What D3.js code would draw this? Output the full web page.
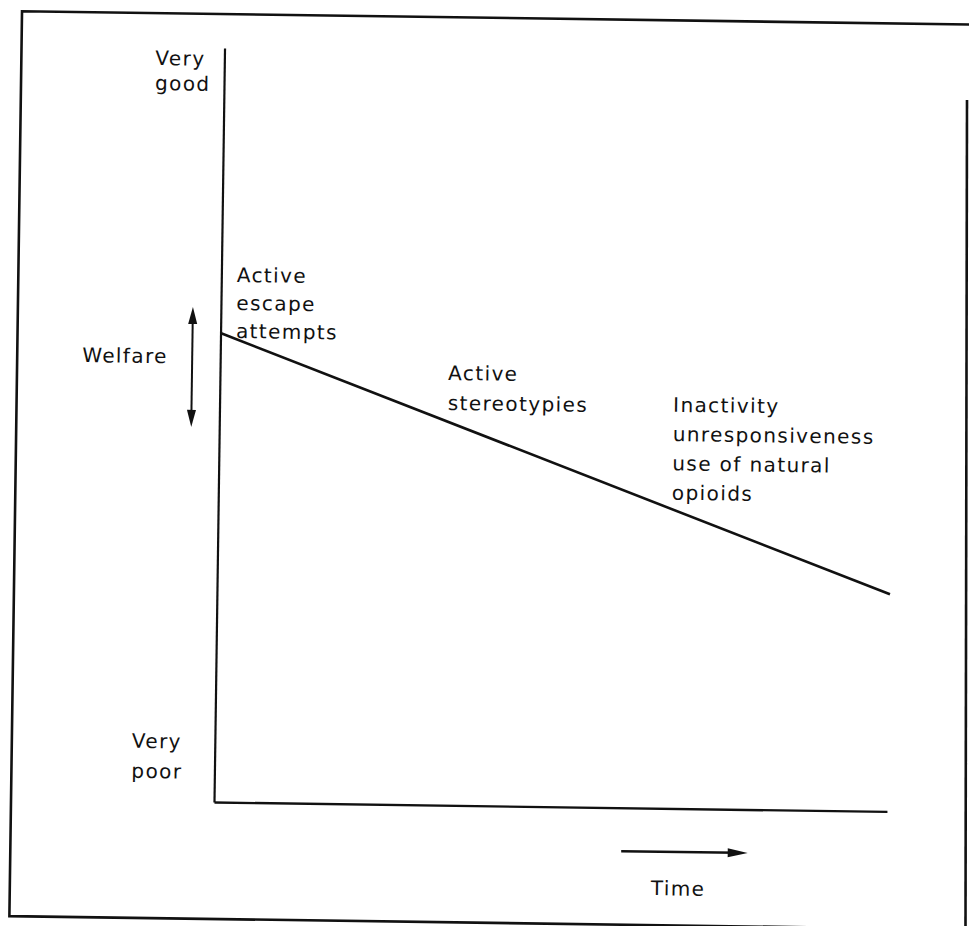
<!DOCTYPE html>
<html>
<head>
<meta charset="utf-8">
<script src="https://cdn.jsdelivr.net/npm/d3@7"></script>
<style>
  html, body { margin: 0; padding: 0; background: #fff; }
  svg { display: block; }
  text { font-family: "DejaVu Sans", sans-serif; font-size: 20px; letter-spacing: 1.4px; fill: #111; }
</style>
</head>
<body>
<script>
// ---- data ----
const time = [0, 100];               // start and end of the period (relative)
const welfare = [62.2, 28.8];        // welfare level (0 = very poor, 100 = very good)
const yTickValues = [0, 100];
const yTickLabels = [["Very", "poor"], ["Very", "good"]];
const stageLabels = [
  ["Active", "escape", "attempts"],
  ["Active", "stereotypies"],
  ["Inactivity", "unresponsiveness", "use of natural", "opioids"]
];
const yAxisTitle = "Welfare";
const xAxisTitle = "Time";

// ---- layout (not data) ----
const W = 969, H = 926;
const origin = [214, 802];
const tilt = 0.8;                    // scan tilt of the original figure
const plotW = 673, plotH = 754;
const stageAnchors = [[2.3, 69.0, 28], [33.9, 56.4, 30], [67.4, 52.6, 29.3]]; // [time, welfare, line step]
const tickLabelPos = [[-83, -53, 30], [-69, 18, 25]]; // [x, dy from tick, line step]

const svg = d3.select("body").append("svg").attr("width", W).attr("height", H);
svg.append("rect").attr("width", W).attr("height", H).attr("fill", "#fff");

const g = svg.append("g").attr("transform", `translate(${origin[0]},${origin[1]}) rotate(${tilt})`);

const x = d3.scaleLinear().domain([0, 100]).range([0, plotW]);
const y = d3.scaleLinear().domain([0, 100]).range([0, -plotH]);

// outer frame (left, top, bottom in tilted frame; right edge straight)
g.append("path")
  .attr("d", "M780,-788 L-203,-788 L-203,117 L780,117")
  .attr("fill", "none").attr("stroke", "#111").attr("stroke-width", 2.6);
svg.append("line").attr("x1", 967).attr("y1", 100).attr("x2", 965.5).attr("y2", 926)
  .attr("stroke", "#111").attr("stroke-width", 2.6);

// axes (domain lines only)
g.append("g").call(d3.axisLeft(y).tickValues([]).tickSizeOuter(0))
  .select(".domain").attr("stroke", "#111").attr("stroke-width", 2.2);
g.append("g").call(d3.axisBottom(x).tickValues([]).tickSizeOuter(0))
  .select(".domain").attr("stroke", "#111").attr("stroke-width", 2.4);

// welfare line
const pts = time.map((t, i) => [t, welfare[i]]);
g.append("path")
  .datum(pts)
  .attr("fill", "none").attr("stroke", "#111").attr("stroke-width", 2.6)
  .attr("d", d3.line().x(d => x(d[0])).y(d => y(d[1])));

// y tick labels
yTickValues.forEach((v, i) => {
  const [lx, dy, step] = tickLabelPos[i];
  const t = g.append("text").attr("x", lx).attr("y", y(v) + dy);
  yTickLabels[i].forEach((s, j) => {
    t.append("tspan").attr("x", lx).attr("dy", j === 0 ? 0 : step).text(s);
  });
});

// stage labels
stageLabels.forEach((lines, i) => {
  const [tv, wv, step] = stageAnchors[i];
  const lx = x(tv);
  const t = g.append("text").attr("x", lx).attr("y", y(wv));
  lines.forEach((s, j) => {
    t.append("tspan").attr("x", lx).attr("dy", j === 0 ? 0 : step).text(s);
  });
});

// welfare title + double arrow
g.append("text").attr("x", -138).attr("y", -438).text(yAxisTitle);
const ax = -28, aTop = y(65.6), aBot = y(49.7);
g.append("line").attr("x1", ax).attr("x2", ax).attr("y1", aTop + 10).attr("y2", aBot - 10)
  .attr("stroke", "#111").attr("stroke-width", 2);
g.append("path").attr("fill", "#111")
  .attr("d", `M${ax},${aTop} L${ax - 4.5},${aTop + 17} L${ax + 4.5},${aTop + 17} Z`);
g.append("path").attr("fill", "#111")
  .attr("d", `M${ax},${aBot} L${ax - 4.5},${aBot - 17} L${ax + 4.5},${aBot - 17} Z`);

// time arrow + title
const tx0 = x(60.6), tx1 = x(79.4), ty = 43.5;
g.append("line").attr("x1", tx0).attr("x2", tx1 - 10).attr("y1", ty).attr("y2", ty)
  .attr("stroke", "#111").attr("stroke-width", 2.4);
g.append("path").attr("fill", "#111")
  .attr("d", `M${tx1},${ty} L${tx1 - 20},${ty - 4.5} L${tx1 - 20},${ty + 4.5} Z`);
g.append("text").attr("x", 438).attr("y", 87).text(xAxisTitle);
</script>
</body>
</html>
